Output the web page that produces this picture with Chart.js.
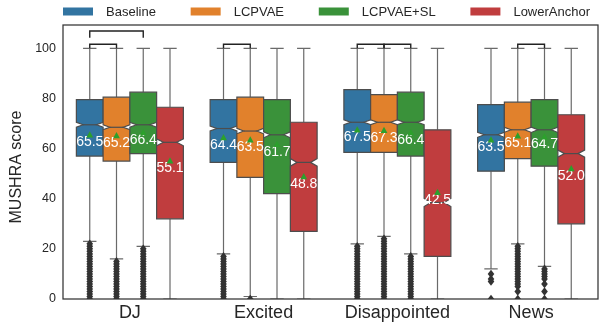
<!DOCTYPE html>
<html>
<head>
<meta charset="utf-8">
<script src="https://cdn.jsdelivr.net/npm/chart.js@4.4.1/dist/chart.umd.min.js"></script>
<style>
  html, body { margin: 0; padding: 0; background: #fff; }
</style>
</head>
<body>
<canvas id="chart" width="603" height="329"></canvas>
<script>
const CATEGORIES = ["DJ", "Excited", "Disappointed", "News"];
const SYSTEMS = ["Baseline", "LCPVAE", "LCPVAE+SL", "LowerAnchor"];
const COLORS = ["#3274a1", "#e1812c", "#3a923a", "#c03d3e"];
const Y_TICKS = [0, 20, 40, 60, 80, 100];
const Y_MAX = 109.3;
const Y_TITLE = "MUSHRA score";

// one row per system, one column per category
const Q1 = [
  [57, 54.5, 58.5, 51],
  [55, 48.5, 58.5, 56],
  [58, 42, 57, 53],
  [32, 27, 17, 30],
];
const MEDIAN = [
  [69.5, 68, 70.5, 65.5],
  [68.5, 67, 70.5, 67.5],
  [69.5, 65.5, 70.5, 67.5],
  [62.5, 54.5, 38.5, 58],
];
const Q3 = [
  [79.5, 79.5, 83.5, 77.5],
  [80.5, 80.5, 81.5, 78.5],
  [82.5, 79.5, 82.5, 79.5],
  [76.5, 70.5, 67.5, 73.5],
];
const WHISKER_LOW = [
  [23, 18, 22, 12],
  [16, 1, 25, 22],
  [21, 0, 18, 13],
  [0, 0, 0, 0],
];
const WHISKER_HIGH = [
  [100, 100, 100, 100],
  [100, 100, 100, 100],
  [100, 100, 100, 100],
  [100, 100, 100, 100],
];
const NOTCH = [
  [1.0, 1.0, 1.0, 1.0],
  [1.0, 1.1, 1.0, 1.0],
  [1.0, 1.2, 1.0, 1.1],
  [1.4, 1.5, 1.6, 1.4],
];
const MEAN = [
  [65.5, 64.4, 67.5, 63.5],
  [65.2, 63.5, 67.3, 65.1],
  [66.4, 61.7, 66.4, 64.7],
  [55.1, 48.8, 42.5, 52.0],
];
// one block per system, one list per category
const OUTLIERS = [
  [
    [22, 21, 20, 19, 18, 17, 16, 15, 14, 13, 12, 11, 10, 9, 8, 7, 6, 5, 4, 3, 2, 1, 0],
    [17, 16, 15, 14, 13, 12, 11, 10, 9, 8, 7, 6, 5, 4, 3, 2, 1, 0],
    [21, 20, 19, 18, 17, 16, 15, 14, 13, 12, 11, 10, 9, 8, 7, 6, 5, 4, 3, 2, 1, 0],
    [10, 8, 7, 0],
  ],
  [
    [15, 14, 13, 12, 11, 10, 9, 8, 7, 6, 5, 4, 3, 2, 1, 0],
    [0],
    [24, 23, 22, 21, 20, 19, 18, 17, 16, 15, 14, 13, 12, 11, 10, 9, 8, 7, 6, 5, 4, 3, 2, 1, 0],
    [21, 20, 19, 18, 17, 16, 15, 14, 13, 12, 11, 10, 9, 8, 7, 6, 5, 3, 0],
  ],
  [
    [20, 19, 18, 17, 16, 15, 14, 13, 12, 11, 10, 9, 8, 7, 6, 5, 4, 3, 2, 1, 0],
    [],
    [17, 16, 15, 14, 13, 12, 11, 10, 9, 8, 7, 6, 5, 4, 3, 2, 1, 0],
    [12, 11, 10, 9, 8, 6, 3, 0],
  ],
  [[], [], [], []],
];
// [category, from system, to system, level]
const BRACKETS = [
  [0, 0, 1, 0],
  [0, 0, 2, 1],
  [1, 0, 1, 0],
  [2, 0, 1, 0],
  [2, 1, 2, 0],
  [3, 1, 2, 0],
];
const BRACKET_LEVELS = [[100, 101.6], [104.2, 106.9]];

const LINE = "#4d4d4d";
const DARK = "#262626";
const FONT = "'Liberation Sans', Arial, Helvetica, sans-serif";

Chart.defaults.font.family = FONT;
Chart.defaults.color = DARK;

function diamond(ctx, x, y) {
  ctx.beginPath();
  ctx.moveTo(x, y - 4.3);
  ctx.lineTo(x + 3.3, y);
  ctx.lineTo(x, y + 4.3);
  ctx.lineTo(x - 3.3, y);
  ctx.closePath();
  ctx.fill();
}

const boxPlugin = {
  id: "boxes",
  afterDatasetsDraw(chart) {
    const ctx = chart.ctx;
    const ys = chart.scales.y;
    const area = chart.chartArea;
    ctx.save();
    ctx.beginPath();
    ctx.rect(area.left, area.top, area.right - area.left, area.bottom - area.top);
    ctx.clip();
    ctx.lineWidth = 1.2;

    SYSTEMS.forEach((name, s) => {
      const meta = chart.getDatasetMeta(s);
      CATEGORIES.forEach((cat, c) => {
        const bar = meta.data[c];
        const cx = bar.x;
        const w = bar.width;
        const left = cx - w / 2, right = cx + w / 2;
        const capL = cx - w / 4, capR = cx + w / 4;
        const pQ1 = ys.getPixelForValue(Q1[s][c]);
        const pQ3 = ys.getPixelForValue(Q3[s][c]);
        const pMed = ys.getPixelForValue(MEDIAN[s][c]);
        const pLo = ys.getPixelForValue(MEDIAN[s][c] - NOTCH[s][c]);
        const pHi = ys.getPixelForValue(MEDIAN[s][c] + NOTCH[s][c]);
        const pWl = ys.getPixelForValue(WHISKER_LOW[s][c]);
        const pWh = ys.getPixelForValue(WHISKER_HIGH[s][c]);

        // whiskers and caps
        ctx.strokeStyle = "#6a6a6a";
        ctx.beginPath();
        ctx.moveTo(cx, pQ3); ctx.lineTo(cx, pWh);
        ctx.moveTo(cx, pQ1); ctx.lineTo(cx, pWl);
        ctx.moveTo(capL, pWh); ctx.lineTo(capR, pWh);
        ctx.moveTo(capL, pWl); ctx.lineTo(capR, pWl);
        ctx.stroke();

        // notched box
        ctx.strokeStyle = LINE;
        ctx.beginPath();
        ctx.moveTo(left, pQ1);
        ctx.lineTo(right, pQ1);
        ctx.lineTo(right, pLo);
        ctx.lineTo(capR, pMed);
        ctx.lineTo(right, pHi);
        ctx.lineTo(right, pQ3);
        ctx.lineTo(left, pQ3);
        ctx.lineTo(left, pHi);
        ctx.lineTo(capL, pMed);
        ctx.lineTo(left, pLo);
        ctx.closePath();
        ctx.fillStyle = COLORS[s];
        ctx.fill();
        ctx.stroke();

        // median
        ctx.beginPath();
        ctx.moveTo(capL, pMed); ctx.lineTo(capR, pMed);
        ctx.stroke();

        // fliers
        ctx.fillStyle = "#333333";
        OUTLIERS[s][c].forEach((v) => diamond(ctx, cx, ys.getPixelForValue(v)));
      });
    });

    // mean labels, then the mean markers on top of them
    SYSTEMS.forEach((name, s) => {
      const meta = chart.getDatasetMeta(s);
      CATEGORIES.forEach((cat, c) => {
        const cx = meta.data[c].x;
        const pm = ys.getPixelForValue(MEAN[s][c]);
        ctx.fillStyle = "#ffffff";
        ctx.font = "14px " + FONT;
        ctx.textAlign = "center";
        ctx.textBaseline = "middle";
        ctx.fillText(MEAN[s][c].toFixed(1), cx, pm + 7.5);
        ctx.fillStyle = "#2ca02c";
        ctx.beginPath();
        ctx.moveTo(cx, pm - 3.6);
        ctx.lineTo(cx + 3.4, pm + 2.6);
        ctx.lineTo(cx - 3.4, pm + 2.6);
        ctx.closePath();
        ctx.fill();
      });
    });
    ctx.restore();

    // significance brackets
    ctx.save();
    ctx.strokeStyle = "#222222";
    ctx.lineWidth = 1.4;
    BRACKETS.forEach(([c, a, b, lvl]) => {
      const xa = chart.getDatasetMeta(a).data[c].x;
      const xb = chart.getDatasetMeta(b).data[c].x;
      const yb = ys.getPixelForValue(BRACKET_LEVELS[lvl][0]);
      const yt = ys.getPixelForValue(BRACKET_LEVELS[lvl][1]);
      ctx.beginPath();
      ctx.moveTo(xa, yb); ctx.lineTo(xa, yt); ctx.lineTo(xb, yt); ctx.lineTo(xb, yb);
      ctx.stroke();
    });

    // frame
    ctx.strokeStyle = "#333333";
    ctx.lineWidth = 1.25;
    ctx.strokeRect(area.left, area.top, area.right - area.left, area.bottom - area.top);

    // y axis title, centred a little below the middle like the original
    ctx.translate(17, (area.top + area.bottom) / 2 + 5);
    ctx.rotate(-Math.PI / 2);
    ctx.font = "16px " + FONT;
    ctx.fillStyle = DARK;
    ctx.textAlign = "center";
    ctx.textBaseline = "middle";
    ctx.fillText(Y_TITLE, 0, 0);
    ctx.restore();
  },
};

const legendPlugin = {
  id: "expandLegend",
  afterDraw(chart) {
    const ctx = chart.ctx;
    const area = chart.chartArea;
    ctx.save();
    ctx.font = "13px " + FONT;
    const patchW = 30, gap = 13;
    const widths = SYSTEMS.map((t) => patchW + gap + ctx.measureText(t).width);
    const total = widths.reduce((a, b) => a + b, 0);
    const span = area.right - 8 - area.left;
    const sep = (span - total) / (SYSTEMS.length - 1);
    let x = area.left;
    const yMid = area.top - 13.5;
    SYSTEMS.forEach((t, i) => {
      ctx.fillStyle = COLORS[i];
      ctx.fillRect(x, yMid - 4, patchW, 8);
      ctx.fillStyle = DARK;
      ctx.textAlign = "left";
      ctx.textBaseline = "middle";
      ctx.fillText(t, x + patchW + gap, yMid + 0.5);
      x += widths[i] + sep;
    });
    ctx.restore();
  },
};

new Chart(document.getElementById("chart"), {
  type: "bar",
  data: {
    labels: CATEGORIES,
    datasets: SYSTEMS.map((name, s) => ({
      label: name,
      data: Q1[s].map((v, c) => [v, Q3[s][c]]),
      backgroundColor: "rgba(0,0,0,0)",
      borderWidth: 0,
      categoryPercentage: 0.8,
      barPercentage: 1.0,
    })),
  },
  options: {
    responsive: false,
    animation: false,
    layout: { padding: { top: 25, right: 5, left: 0, bottom: 0 } },
    plugins: {
      legend: { display: false },
      tooltip: { enabled: false },
    },
    scales: {
      x: {
        type: "category",
        offset: true,
        grid: { display: false, drawTicks: false },
        border: { display: false },
        ticks: { font: { size: 18 }, padding: 3, color: DARK },
        afterFit: (scale) => { scale.height = 30; },
      },
      y: {
        min: 0,
        max: Y_MAX,
        grid: { display: false, drawTicks: false },
        border: { display: false },
        afterBuildTicks: (scale) => { scale.ticks = Y_TICKS.map((v) => ({ value: v })); },
        ticks: { font: { size: 12.5 }, padding: 7, color: DARK },
        title: { display: false },
        afterFit: (scale) => { scale.width = 63; },
      },
    },
  },
  plugins: [boxPlugin, legendPlugin],
});
</script>
</body>
</html>
